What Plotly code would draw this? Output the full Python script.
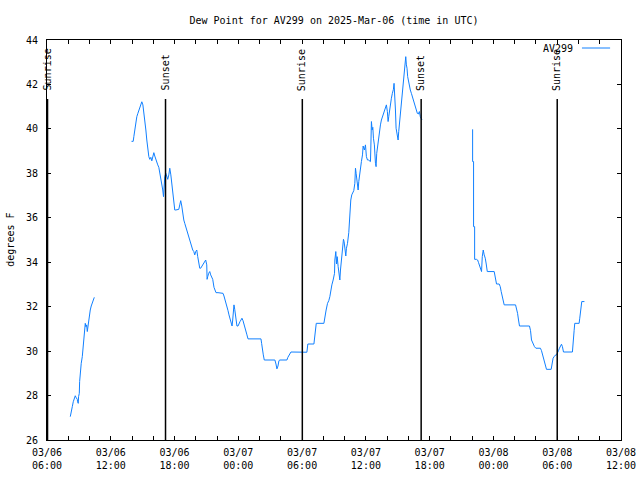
import pandas as pd
import plotly.graph_objects as go

# ---------------- data (hours since 2025-03-06 06:00 UTC, dew point in F) ----------------
seg1_hours = [2.19, 2.25, 2.38, 2.47, 2.57, 2.66, 2.75, 2.85, 2.88, 2.94, 2.97, 3.04, 3.07, 3.13,
              3.22, 3.32, 3.41, 3.51, 3.60, 3.66, 3.73, 3.79, 3.85, 3.91, 3.98, 4.07, 4.16, 4.26,
              4.35, 4.45]
seg1_dewpt = [27.05, 27.27, 27.5, 27.72, 27.88, 27.99, 27.9, 27.83, 27.72, 27.65, 27.95, 28.1,
              28.63, 29.15, 29.45, 29.75, 30.2, 30.88, 31.25, 31.1, 31.18, 30.88, 31.1, 31.36,
              31.63, 31.85, 32.03, 32.2, 32.33, 32.42]

seg2_hours = [7.95, 8.11, 8.17, 8.26, 8.36, 8.45, 8.55, 8.64, 8.73, 8.83, 8.92, 9.02, 9.11, 9.20,
              9.30, 9.39, 9.49, 9.58, 9.67, 9.77, 9.86, 9.95, 10.05, 10.14, 10.24, 10.33, 10.42,
              10.52, 10.61, 10.71, 10.80, 10.89, 10.96, 11.02, 11.08, 11.18, 11.27, 11.36, 11.46,
              11.55, 11.65, 11.74, 11.83, 11.93, 12.02, 12.11, 12.40, 12.49, 12.58, 12.68, 12.77,
              12.87, 12.96, 13.05, 13.15, 13.24, 13.34, 13.43, 13.52, 13.62, 13.71, 13.81, 13.90,
              13.99, 14.09, 14.18, 14.27, 14.37, 14.46, 14.56, 14.65, 14.74, 14.84, 14.93, 15.03,
              15.06, 15.12, 15.21, 15.31, 15.40, 15.50, 15.59,
              15.71, 15.81, 15.90, 16.09, 16.28, 16.47, 16.56, 16.65, 16.75, 16.84, 16.94, 17.03,
              17.12, 17.22, 17.31, 17.41, 17.47, 17.53, 17.59, 17.66, 17.72, 17.81, 17.87, 17.97,
              18.06, 18.16, 18.25, 18.34, 18.44, 18.53, 18.63, 18.72, 18.81, 18.91, 20.13, 20.19,
              20.25, 20.35, 20.44, 21.44, 21.54, 21.63, 21.73, 21.82, 21.91, 22.57, 22.66, 22.76,
              22.85, 22.95,
              24.45, 24.54, 25.11, 25.23, 25.33, 26.05, 26.14, 26.26, 26.39, 26.51, 26.61, 26.70,
              26.80, 26.92, 27.05, 27.08, 27.17, 27.24, 27.30, 27.39, 27.49, 27.55, 27.61, 27.67,
              27.74, 27.83, 27.89, 27.95, 28.02, 28.11, 28.17, 28.27, 28.39, 28.49, 28.58, 28.67,
              28.77, 28.86, 28.96, 29.02, 29.08, 29.14, 29.21, 29.27, 29.33, 29.40, 29.49, 29.58,
              29.68, 29.74, 29.86, 29.96, 30.05, 30.15, 30.24, 30.43, 30.46, 30.52, 30.59, 30.65,
              30.71, 30.80, 30.90, 30.96, 31.02, 31.09, 31.18, 31.27, 31.37, 31.46, 31.55, 31.65,
              31.74, 31.84, 31.93, 32.02, 32.09, 32.15, 32.21, 32.31, 32.40, 32.49, 32.59, 32.65,
              32.71, 32.78, 32.84, 32.93, 33.03, 33.09, 33.18, 33.28, 33.37, 33.46, 33.56, 33.65,
              33.75, 33.81, 33.87, 33.93, 34.00, 34.09, 34.18, 34.28, 34.37, 34.47, 34.56, 34.65,
              34.75, 34.84, 34.94, 35.03, 35.12, 35.22, 35.28]
seg2_dewpt = [39.44, 39.44, 39.65, 39.95, 40.33, 40.55, 40.70, 40.85, 40.97, 41.1, 41.22, 41.08,
              40.78, 40.4, 39.95, 39.5, 39.05, 38.75, 38.63, 38.72, 38.56, 38.83, 38.93, 38.78,
              38.6, 38.48, 38.38, 38.27, 38.03, 37.82, 37.63, 37.25, 36.95, 37.4, 37.85, 38.0,
              37.85, 37.73, 37.93, 38.23, 37.93, 37.55, 36.95, 36.58, 36.35, 36.35, 36.38, 36.58,
              36.77, 36.53, 36.08, 35.9, 35.75, 35.6, 35.48, 35.33, 35.21, 35.08, 34.85, 34.75,
              34.55, 34.48, 34.33, 34.48, 34.55, 34.25, 34.03, 33.73, 33.73, 33.8, 33.88, 33.98,
              34.03, 34.1, 33.88, 33.23, 33.35, 33.5, 33.58, 33.43, 33.35, 33.23,
              32.87, 32.68, 32.63, 32.63, 32.62, 32.6, 32.6, 32.48, 32.33, 32.15, 31.97, 31.82,
              31.63, 31.48, 31.33, 31.13, 31.4, 31.78, 32.08, 31.88, 31.7, 31.48, 31.13, 31.13,
              31.25, 31.33, 31.4, 31.48, 31.37, 31.18, 31.03, 30.88, 30.73, 30.55, 30.55, 30.35,
              30.08, 29.83, 29.6, 29.6, 29.42, 29.2, 29.33, 29.57, 29.6, 29.6, 29.72, 29.83,
              29.9, 29.96,
              29.95, 30.32, 30.32, 30.8, 31.25, 31.25, 31.63, 31.85, 32.15, 32.27, 32.45, 32.75,
              32.98, 33.2, 33.5, 34.1, 34.48, 33.92, 34.25, 33.8, 33.43, 33.2, 33.65, 33.95,
              34.4, 34.7, 35.03, 34.93, 34.55, 34.28, 34.63, 34.85, 35.33, 36.28, 36.8, 37.03,
              37.1, 37.22, 37.55, 38.23, 38.0, 37.7, 37.4, 37.25, 37.63, 37.93, 38.3, 38.53,
              38.83, 39.23, 39.05, 39.28, 38.75, 38.6, 38.6, 38.53, 39.05, 40.33, 39.95, 40.07,
              39.58, 39.28, 38.45, 38.3, 38.9, 39.2, 39.65, 39.95, 40.18, 40.4, 40.52, 40.63,
              40.78, 40.93, 41.08, 40.78, 40.33, 40.55, 40.82, 41.08, 41.38, 41.6, 41.78, 42.05,
              41.6, 40.85, 40.03, 39.65, 39.5, 39.88, 40.33, 40.85, 41.3, 41.75, 42.2, 42.88,
              43.25, 42.88, 42.73, 42.35, 42.13, 41.9, 41.75, 41.6, 41.45, 41.3, 41.12, 41.0,
              40.85, 40.7, 40.67, 40.78, 40.55, 40.48, 40.4]

seg3_hours = [40.04, 40.04, 40.13, 40.13, 40.23, 40.23, 40.41, 40.51, 40.60, 40.70, 40.79, 40.88,
              40.95, 41.04, 41.13, 41.23, 41.32, 41.42, 42.07, 42.17, 42.29, 42.54, 42.64, 42.73,
              42.83, 42.92, 43.01, 44.08, 44.17, 44.27, 44.36, 44.45, 45.39, 45.49, 45.58, 45.67,
              45.77, 45.86, 45.99, 46.42, 46.52, 46.61, 46.71, 46.80, 46.90, 46.99, 47.43, 47.52,
              47.61, 47.71, 47.80, 47.93, 48.02, 48.12, 48.21, 48.30, 48.40, 48.49, 48.59, 49.43,
              49.46, 49.52, 49.59, 49.65, 50.06, 50.12, 50.18, 50.24, 50.31, 50.56]
seg3_dewpt = [39.98, 38.53, 38.53, 35.6, 35.6, 34.13, 34.13, 34.1, 33.98, 33.83, 33.73, 33.58,
              34.25, 34.55, 34.33, 34.18, 33.92, 33.58, 33.58, 33.35, 33.02, 33.02, 32.9, 32.68,
              32.45, 32.23, 32.08, 32.08, 31.93, 31.7, 31.4, 31.13, 31.13, 30.92, 30.5, 30.38,
              30.28, 30.2, 30.13, 30.13, 30.02, 29.83, 29.63, 29.45, 29.3, 29.18, 29.18, 29.45,
              29.68, 29.75, 29.81, 29.83, 29.9, 30.02, 30.13, 30.23, 30.31, 30.2, 29.96, 29.96,
              30.28, 30.65, 30.92, 31.25, 31.25, 31.48, 31.85, 32.0, 32.23, 32.23]

sun_event_names = ["Sunrise", "Sunset", "Sunrise", "Sunset", "Sunrise"]
sun_event_hours = [0.05, 11.15, 24.02, 35.2, 48.0]

x_tick_hours = [0, 6, 12, 18, 24, 30, 36, 42, 48, 54]
x_tick_labels = ["03/06<br>06:00", "03/06<br>12:00", "03/06<br>18:00", "03/07<br>00:00",
                 "03/07<br>06:00", "03/07<br>12:00", "03/07<br>18:00", "03/08<br>00:00",
                 "03/08<br>06:00", "03/08<br>12:00"]
x_minor_step_hours = 2
y_range = [26, 44]
y_tick_step = 2

series_name = "AV299"
title_text = "Dew Point for AV299 on 2025-Mar-06 (time in UTC)"
y_label = "degrees F"

# ---------------- build ----------------
start = pd.Timestamp("2025-03-06 06:00")


def to_time(hours):
    return [start + pd.to_timedelta(h, unit="h") for h in hours]


xs, ys = [], []
for hrs, vals in [(seg1_hours, seg1_dewpt), (seg2_hours, seg2_dewpt), (seg3_hours, seg3_dewpt)]:
    xs += to_time(hrs) + [None]
    ys += list(vals) + [None]

FONT = "DejaVu Sans Mono"
LINE_COLOR = "#1080ff"

fig = go.Figure()
fig.add_trace(go.Scatter(x=xs, y=ys, mode="lines", name=series_name,
                         line=dict(color=LINE_COLOR, width=1), connectgaps=False,
                         showlegend=False, hoverinfo="skip"))

# tick values: every 2 hours, labels at 6-hour marks
all_ticks = list(range(x_tick_hours[0], x_tick_hours[-1] + 1, x_minor_step_hours))
label_map = dict(zip(x_tick_hours, x_tick_labels))
tickvals = to_time(all_ticks)
ticktext = [label_map.get(h, "") for h in all_ticks]

shapes = []
annotations = []
for name, h in zip(sun_event_names, sun_event_hours):
    t = to_time([h])[0]
    shapes.append(dict(type="line", xref="x", yref="y", x0=t, x1=t, y0=y_range[0], y1=41.35,
                       line=dict(color="black", width=1.5)))
    annotations.append(dict(x=t, y=41.62, xref="x", yref="y", text=name, textangle=-90,
                            showarrow=False, xanchor="center", yanchor="bottom",
                            font=dict(family=FONT, size=10, color="black")))

# legend (text then line sample, gnuplot style)
annotations.append(dict(x=0.92, y=0.98, xref="paper", yref="paper", text=series_name,
                        showarrow=False, xanchor="right", yanchor="middle",
                        font=dict(family=FONT, size=10, color="black")))
shapes.append(dict(type="line", xref="paper", yref="paper", x0=0.932, x1=0.981, y0=0.98, y1=0.98,
                   line=dict(color=LINE_COLOR, width=1)))

# y-axis label
annotations.append(dict(x=-0.065, y=0.5, xref="paper", yref="paper", text=y_label,
                        textangle=-90, showarrow=False, xanchor="center", yanchor="middle",
                        font=dict(family=FONT, size=10, color="black")))

fig.update_layout(
    width=640, height=480,
    margin=dict(l=47, r=19, t=40, b=40, autoexpand=False),
    paper_bgcolor="white", plot_bgcolor="white",
    font=dict(family=FONT, size=10, color="black"),
    title=dict(text=title_text, x=0.5, xref="paper", y=1 - 20 / 480, yanchor="middle",
               font=dict(family=FONT, size=10, color="black")),
    shapes=shapes, annotations=annotations,
    xaxis=dict(type="date", range=[to_time([x_tick_hours[0]])[0], to_time([x_tick_hours[-1]])[0]],
               tickmode="array", tickvals=tickvals, ticktext=ticktext,
               ticks="inside", ticklen=4, tickcolor="black", tickwidth=1,
               showline=True, linecolor="black", linewidth=1, mirror="allticks",
               showgrid=False, zeroline=False, tickangle=0, automargin=False,
               ticklabelstandoff=3),
    yaxis=dict(range=y_range, dtick=y_tick_step, tick0=y_range[0],
               ticks="inside", ticklen=4, tickcolor="black", tickwidth=1,
               showline=True, linecolor="black", linewidth=1, mirror="allticks",
               showgrid=False, zeroline=False, ticklabelstandoff=6, automargin=False),
)

fig.write_html("out.html")
